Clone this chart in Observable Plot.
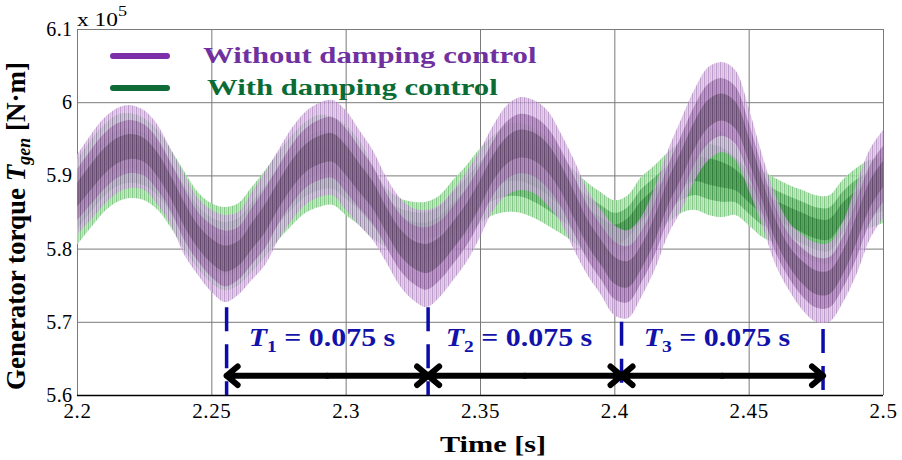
<!DOCTYPE html>
<html><head><meta charset="utf-8">
<script src="https://cdn.jsdelivr.net/npm/d3@7"></script>
<script src="https://cdn.jsdelivr.net/npm/@observablehq/plot@0.6"></script>
<style>
body{margin:0;background:#fff;}
#wrap{position:relative;width:902px;height:460px;overflow:hidden;font-family:"Liberation Serif","Times New Roman",serif;}
.ov{position:absolute;white-space:nowrap;line-height:1;}
#wrap svg g[aria-label="x-axis tick label"] text{font-size:21px;letter-spacing:0.6px;}
#wrap svg g[aria-label="y-axis tick label"] text{font-size:20px;letter-spacing:0.4px;}
</style></head><body><div id="wrap"></div>
<script>
// ---- data (values in units of 10^5 N·m) ----
const time = [2.200,2.205,2.210,2.215,2.220,2.225,2.230,2.235,2.240,2.245,
  2.250,2.255,2.260,2.265,2.270,2.275,2.280,2.285,2.290,2.295,
  2.300,2.305,2.310,2.315,2.320,2.325,2.330,2.335,2.340,2.345,
  2.350,2.355,2.360,2.365,2.370,2.375,2.380,2.385,2.390,2.395,
  2.400,2.405,2.410,2.415,2.420,2.425,2.430,2.435,2.440,2.445,
  2.450,2.455,2.460,2.465,2.470,2.475,2.480,2.485,2.490,2.495,2.500];
// Without damping control: upper / lower envelope of the oscillating trace
const purpleUpper = [5.928,5.955,5.978,5.992,5.996,5.989,5.969,5.935,5.901,5.869,
  5.853,5.846,5.850,5.877,5.905,5.935,5.965,5.987,5.999,6.003,
  5.989,5.962,5.935,5.898,5.870,5.855,5.853,5.860,5.880,5.905,
  5.935,5.969,5.996,6.007,6.003,5.989,5.958,5.921,5.880,5.853,
  5.832,5.825,5.843,5.884,5.935,5.978,6.019,6.048,6.055,6.044,
  5.992,5.928,5.873,5.836,5.819,5.808,5.808,5.836,5.887,5.935,5.962];
const purpleLower = [5.819,5.839,5.860,5.876,5.883,5.880,5.860,5.832,5.791,5.764,
  5.741,5.727,5.737,5.757,5.778,5.812,5.839,5.860,5.870,5.873,
  5.853,5.832,5.812,5.782,5.750,5.730,5.720,5.734,5.757,5.782,
  5.816,5.853,5.873,5.880,5.876,5.860,5.836,5.798,5.764,5.737,
  5.709,5.705,5.734,5.771,5.819,5.853,5.894,5.921,5.932,5.921,
  5.880,5.832,5.778,5.743,5.716,5.700,5.700,5.726,5.764,5.812,5.842];
// With damping control
const greenUpper = [5.921,5.948,5.969,5.983,5.985,5.978,5.962,5.935,5.905,5.877,
  5.862,5.857,5.862,5.884,5.907,5.932,5.955,5.973,5.983,5.980,
  5.969,5.948,5.914,5.883,5.869,5.864,5.864,5.873,5.894,5.914,
  5.937,5.955,5.969,5.972,5.965,5.951,5.928,5.907,5.890,5.877,
  5.866,5.873,5.898,5.914,5.932,5.948,5.965,5.965,5.959,5.942,
  5.921,5.907,5.896,5.887,5.880,5.873,5.873,5.894,5.910,5.921,5.925];
const greenLower = [5.805,5.828,5.850,5.864,5.869,5.866,5.853,5.828,5.798,5.773,
  5.753,5.743,5.750,5.768,5.789,5.812,5.832,5.849,5.857,5.860,
  5.846,5.832,5.814,5.802,5.791,5.787,5.784,5.791,5.805,5.819,
  5.835,5.846,5.850,5.849,5.842,5.832,5.821,5.808,5.791,5.778,
  5.771,5.784,5.805,5.823,5.836,5.849,5.853,5.846,5.843,5.846,
  5.832,5.816,5.808,5.801,5.791,5.782,5.780,5.805,5.821,5.828,5.835];

const xTicks = [2.2, 2.25, 2.3, 2.35, 2.4, 2.45, 2.5];
const yTicks = [5.6, 5.7, 5.8, 5.9, 6.0, 6.1];
const periodMarks = [2.2555, 2.3305, 2.4025, 2.4775];
const dashTop = [5.72, 5.72, 5.70, 5.69];
const periodLabels = ["1", "2", "3"];
const periodText = "0.075 s";
const arrowLevel = 5.627;
const labelLevel = 5.676;
const seriesNames = ["Without damping control", "With damping control"];

// ---- build tables ----
const rows = time.map((t, i) => ({t, pu: purpleUpper[i], pl: purpleLower[i], gu: greenUpper[i], gl: greenLower[i]}));
const core = (u, l, k) => (u + l) / 2 + k * (u - l);
const dashes = periodMarks.map((x, i) => ({x, top: dashTop[i], bottom: 5.6}));
const arrows = [];
for (let i = 0; i < periodMarks.length - 1; i++) {
  const a = periodMarks[i], b = periodMarks[i + 1], m = (a + b) / 2;
  arrows.push({x1: m, x2: a, y: arrowLevel}, {x1: m, x2: b, y: arrowLevel});
}
function band(u, l, k, fill, op) {
  return Plot.areaY(rows, {x: "t", y1: d => core(d[u], d[l], -k), y2: d => core(d[u], d[l], k), fill, fillOpacity: op, curve: "catmull-rom"});
}

const fmt = d => String(+d.toFixed(2));
const plot = Plot.plot({
  width: 902, height: 460,
  marginLeft: 77, marginRight: 19, marginTop: 29, marginBottom: 65,
  style: {fontFamily: "'Liberation Serif','Times New Roman',serif", fontSize: "20px", color: "#000", background: "#fff", overflow: "visible"},
  x: {domain: [2.2, 2.5], ticks: xTicks, tickFormat: fmt, tickSize: 0, tickPadding: 8, label: null},
  y: {domain: [5.6, 6.1], ticks: yTicks, tickFormat: fmt, tickSize: 0, tickPadding: 5, label: null},
  marks: [
    Plot.ruleX(xTicks, {stroke: "#7a7a7a", strokeWidth: 1}),
    Plot.ruleY(yTicks, {stroke: "#7a7a7a", strokeWidth: 1}),
    band("gu", "gl", 0.5, "url(#gOuter)", 0.85),
    band("gu", "gl", 0.32, "url(#gMid)", 0.8),
    band("gu", "gl", 0.15, "url(#gInner)", 0.8),
    band("pu", "pl", 0.5, "url(#pOuter)", 0.7),
    band("pu", "pl", 0.32, "url(#pMid)", 0.7),
    band("pu", "pl", 0.15, "url(#pInner)", 0.7),
    Plot.ruleY([5.6], {stroke: "#000", strokeWidth: 1.3}),
    Plot.ruleX(dashes, {x: "x", y1: "top", y2: "bottom", stroke: "#0b0ba8", strokeWidth: 3.5, strokeDasharray: "24,13"}),
    Plot.arrow(arrows, {x1: "x1", x2: "x2", y: "y", stroke: "#000", strokeWidth: 6, headLength: 3.6, headAngle: 80, strokeLinecap: "round", strokeLinejoin: "round"})
  ]
});
const svg = plot.tagName.toLowerCase() === "svg" ? plot : plot.querySelector("svg");
// stripe patterns imitating the dense high-frequency oscillation
const defs = d3.select(svg).insert("defs", ":first-child");
function stripes(id, base, dark, mid) {
  const p = defs.append("pattern").attr("id", id).attr("width", 4).attr("height", 10).attr("patternUnits", "userSpaceOnUse");
  p.append("rect").attr("width", 4).attr("height", 10).attr("fill", base);
  p.append("rect").attr("x", 0).attr("width", 1.1).attr("height", 10).attr("fill", dark);
  p.append("rect").attr("x", 2.2).attr("width", 0.8).attr("height", 10).attr("fill", mid);
}
stripes("pOuter", "#dcc2e6", "#a274b6", "#bf98cd");
stripes("pMid", "#ad86bb", "#7a4f8a", "#94699f");
stripes("pInner", "#806388", "#56405e", "#6a5072");
stripes("gOuter", "#bfe6bd", "#6cbf72", "#93d093");
stripes("gMid", "#7cc47f", "#3d9147", "#5aaa60");
stripes("gInner", "#4f9f58", "#2a7535", "#3c8c45");

const wrap = document.getElementById("wrap");
wrap.appendChild(plot);
const X = plot.scale("x"), Y = plot.scale("y");

function ov(html, css) {
  const d = document.createElement("div");
  d.className = "ov";
  d.innerHTML = html;
  Object.assign(d.style, css);
  wrap.appendChild(d);
  return d;
}
// period labels
for (let i = 0; i < periodLabels.length; i++) {
  const m = (periodMarks[i] + periodMarks[i + 1]) / 2;
  ov(`<i>T</i><span style="font-size:17px;position:relative;top:6px;">${periodLabels[i]}</span> = ${periodText}`, {
    left: (X.apply(m) - 5) + "px", top: Y.apply(labelLevel) + "px",
    fontSize: "26px", fontWeight: "bold", color: "#1212aa", lineHeight: "26px",
    transform: "translate(-50%,-50%) scaleX(1.15)"
  });
}
// legend
const legendColors = [["#7b2fa8", "#7030a0"], ["#0f6b37", "#0a6b34"]];
const legendY = [56, 88];
const legendTextX = [203, 207];
seriesNames.forEach((name, i) => {
  ov("", {left: "110px", top: (legendY[i] - 3) + "px", width: "60px", height: "6px", borderRadius: "3px", background: legendColors[i][0]});
  ov(name, {left: legendTextX[i] + "px", top: (legendY[i] - 13) + "px", fontSize: "24px", lineHeight: "24px", fontWeight: "bold",
    color: legendColors[i][1], transformOrigin: "left center", transform: "scaleX(1.28)"});
});
// exponent
ov(`x 10<span style="font-size:14px;position:relative;top:-10px;">5</span>`, {left: "77px", top: "11px", fontSize: "18px", lineHeight: "18px", transformOrigin: "left center", transform: "scaleX(1.3)"});
// axis labels
ov("Time [s]", {left: "493px", top: "432px", fontSize: "24px", lineHeight: "24px", fontWeight: "bold", transform: "translateX(-50%) scaleX(1.26)"});
ov(`Generator torque <i>T</i><i style="font-size:18px;position:relative;top:5px;">gen</i> [N·m]`, {
  left: "17px", top: "226px", fontSize: "27px", lineHeight: "30px", fontWeight: "bold",
  transform: "translate(-50%,-50%) rotate(-90deg)"
});
</script></body></html>
